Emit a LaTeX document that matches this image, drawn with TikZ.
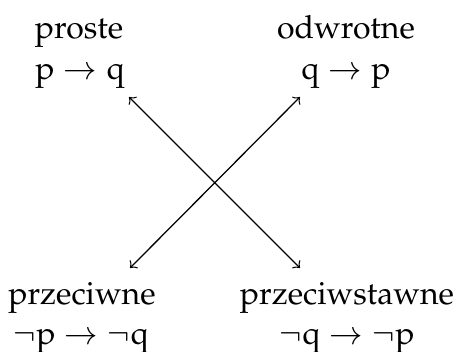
\documentclass[tikz,border=0pt]{standalone}
\usepackage[T1]{fontenc}
\usepackage{mathpazo}
\begin{document}
\begin{tikzpicture}[x=0.3125pt,y=-0.3125pt,
  lbl/.style={anchor=base,inner sep=0pt,outer sep=0pt},
  conn/.style={<->,line width=0.4pt}]
\useasboundingbox (0,0) rectangle (453,351);
\node[lbl] (t1) at (79,38) {proste};
\node[lbl] (f1) at (80,79) {$\mathrm{p}\to \mathrm{q}$};
\node[lbl] (t2) at (346,38) {odwrotne};
\node[lbl] (f2) at (346,79) {$\mathrm{q}\to \mathrm{p}$};
\node[lbl] (t3) at (82,304) {przeciwne};
\node[lbl] (f3) at (81,344) {$\neg \mathrm{p}\to \neg \mathrm{q}$};
\node[lbl] (t4) at (347,304) {przeciwstawne};
\node[lbl] (f4) at (347,344) {$\neg \mathrm{q}\to \neg \mathrm{p}$};
\coordinate (a1) at (129,97);
\coordinate (a2) at (300,97);
\coordinate (a3) at (130,268);
\coordinate (a4) at (300,268);
\draw[conn] (a1) -- (a4);
\draw[conn] (a2) -- (a3);
\end{tikzpicture}
\end{document}
